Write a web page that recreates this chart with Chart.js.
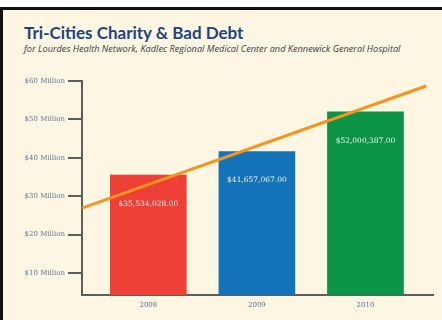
<!DOCTYPE html>
<html>
<head>
<meta charset="utf-8">
<script src="https://cdn.jsdelivr.net/npm/chart.js@4"></script>
<style>
  html, body { margin: 0; padding: 0; }
  body { width: 442px; height: 320px; background: #fff; position: relative; overflow: hidden; }
  #frame { position: absolute; left: 0; top: 7px; width: 442px; height: 313px; background: #fdf6e2; border-top: 3px solid #111; border-left: 3px solid #111; box-sizing: border-box; }
  #title { position: absolute; left: 24px; top: 22px; font: bold 17px Lato, sans-serif; color: #1d4486; white-space: nowrap; }
  #subtitle { position: absolute; left: 24px; top: 42px; font: italic 9.2px "Open Sans", sans-serif; color: #3c3c3c; white-space: nowrap; }
  #wrap { position: absolute; left: 0; top: 0; width: 442px; height: 320px; }
</style>
</head>
<body>
<div id="frame"></div>
<div id="title">Tri-Cities Charity &amp; Bad Debt</div>
<div id="subtitle">for Lourdes Health Network, Kadlec Regional Medical Center and Kennewick General Hospital</div>
<div id="wrap"><canvas id="chart" width="442" height="320"></canvas></div>
<script>
// Data
const categories = ['2008', '2009', '2010'];
const debtValues = [35534028, 41657067, 52000387];
const debtLabels = ['$35,534,028.00', '$41,657,067.00', '$52,000,387.00'];
const barColors = ['#ee4036', '#1573ba', '#0b9346'];
const trendX = [-0.611, 2.56];
const trendY = [26900000, 58700000];
const yTicks = [10000000, 20000000, 30000000, 40000000, 50000000, 60000000];

const tickFont = { family: 'DejaVu Serif', size: 7 };
const tickColor = '#61789a';
const axisColor = '#5e5e5e';

// Draw the dollar amounts inside the bars
const barLabels = {
    id: 'barLabels',
    afterDatasetsDraw(chart) {
        const ctx = chart.ctx;
        const meta = chart.getDatasetMeta(1);
        ctx.save();
        ctx.fillStyle = 'rgba(255,255,255,0.9)';
        ctx.font = '7.5px "DejaVu Serif"';
        ctx.textAlign = 'center';
        ctx.textBaseline = 'middle';
        meta.data.forEach((bar, i) => {
            ctx.fillText(debtLabels[i], bar.x, bar.y + 29);
        });
        ctx.restore();
    }
};

new Chart(document.getElementById('chart'), {
    type: 'bar',
    data: {
        datasets: [
            {
                type: 'line',
                data: trendX.map((x, i) => ({ x: x, y: trendY[i] })),
                borderColor: '#f7941e',
                borderWidth: 3,
                pointRadius: 0,
                clip: false,
                order: 0
            },
            {
                data: debtValues.map((v, i) => ({ x: i, y: v })),
                backgroundColor: barColors,
                barThickness: 76,
                order: 1
            }
        ]
    },
    options: {
        responsive: false,
        animation: false,
        layout: { padding: { left: 0, top: 81, right: 9, bottom: 0 } },
        plugins: { legend: { display: false }, tooltip: { enabled: false } },
        scales: {
            x: {
                type: 'linear',
                offset: false,
                min: -0.611,
                max: 2.622,
                afterBuildTicks: scale => { scale.ticks = categories.map((c, i) => ({ value: i })); },
                afterFit: scale => { scale.height = 25; },
                ticks: {
                    callback: (v) => categories[v],
                    font: tickFont,
                    color: tickColor,
                    padding: 6,
                    maxRotation: 0
                },
                grid: { display: false, drawTicks: false, offset: false },
                border: { color: axisColor, width: 2 }
            },
            y: {
                min: 4300000,
                max: 60000000,
                afterBuildTicks: scale => { scale.ticks = yTicks.map(v => ({ value: v })); },
                afterFit: scale => { scale.width = 82; },
                ticks: {
                    callback: v => '$' + (v / 1000000) + ' Million',
                    font: tickFont,
                    color: tickColor,
                    padding: 3
                },
                grid: { drawOnChartArea: false, tickLength: 14, color: axisColor, lineWidth: 2 },
                border: { color: axisColor, width: 2 }
            }
        }
    },
    plugins: [barLabels]
});
</script>
</body>
</html>
